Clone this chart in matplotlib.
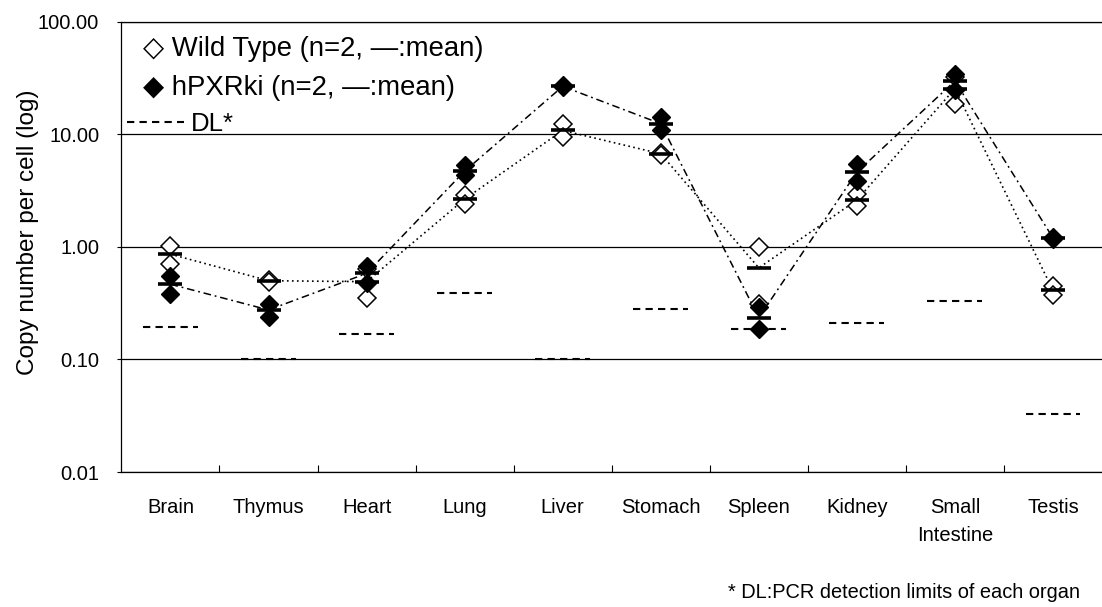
import matplotlib
matplotlib.use('Agg')
import matplotlib.pyplot as plt
from matplotlib.lines import Line2D
from matplotlib.ticker import FixedLocator, NullLocator, FormatStrFormatter
import numpy as np

plt.rcParams['font.family'] = ['Liberation Sans', 'DejaVu Sans']

organs = ['Brain', 'Thymus', 'Heart', 'Lung', 'Liver', 'Stomach', 'Spleen',
          'Kidney', 'Small\nIntestine', 'Testis']

# wild type: two animals + mean
wt_a = [1.02, 0.51, 0.63, 2.9, 12.4, 6.8, 1.00, 2.95, 32.0, 0.45]
wt_b = [0.70, 0.49, 0.35, 2.4, 9.4, 6.6, 0.31, 2.32, 18.7, 0.37]
wt_mean = [0.86, 0.50, 0.49, 2.65, 10.8, 6.7, 0.65, 2.6, 25.4, 0.41]

# hPXRki: two animals + mean
hp_a = [0.55, 0.31, 0.68, 5.3, 27.5, 14.2, 0.29, 5.45, 34.6, 1.22]
hp_b = [0.38, 0.24, 0.48, 4.3, 26.0, 10.8, 0.185, 3.87, 24.9, 1.18]
hp_mean = [0.465, 0.275, 0.58, 4.7, 26.6, 12.4, 0.235, 4.6, 29.7, 1.2]

# PCR detection limit per organ
dl = [0.195, 0.10, 0.167, 0.39, 0.10, 0.28, 0.185, 0.21, 0.33, 0.033]

x = np.arange(len(organs))

fig = plt.figure(figsize=(11.02, 6.07), dpi=100)
ax = fig.add_axes([0.1102, 0.2224, 0.8898, 0.742])

# detection limits (short dashed segments)
ax.hlines(dl, x - 0.28, x + 0.28, colors='black', linewidth=1.5,
          linestyles=(0, (3.5, 2.5)), zorder=2)

# lines through the means
ax.plot(x, wt_mean, color='black', linestyle=(0, (1, 2)), linewidth=1.2, zorder=3)
ax.plot(x, hp_mean, color='black', linestyle=(0, (5, 2.5, 1.2, 2.5)), linewidth=1.1, zorder=3)

# individual animals
for vals in (wt_a, wt_b):
    ax.plot(x, vals, linestyle='none', marker='D', markersize=9.5,
            markerfacecolor='white', markeredgecolor='black', markeredgewidth=1.1, zorder=4)
for vals in (hp_a, hp_b):
    ax.plot(x, vals, linestyle='none', marker='D', markersize=9.5,
            markerfacecolor='black', markeredgecolor='black', zorder=5)

# mean bars
ax.plot(x, wt_mean, linestyle='none', marker='_', markersize=17,
        markeredgewidth=2.6, color='black', zorder=6)
ax.plot(x, hp_mean, linestyle='none', marker='_', markersize=17,
        markeredgewidth=2.6, color='black', zorder=6)

ax.set_yscale('log')
ax.set_ylim(0.01, 100)
ax.set_xlim(-0.5, len(organs) - 0.5)
ax.yaxis.set_major_formatter(FormatStrFormatter('%.2f'))
ax.yaxis.set_minor_locator(NullLocator())
ax.yaxis.grid(True, which='major', color='black', linewidth=0.9)
ax.set_axisbelow(True)
ax.tick_params(axis='y', which='major', direction='out', length=3,
               width=0.8, pad=13, labelsize=14.5)

ax.set_xticks(x)
ax.set_xticklabels(organs)
ax.xaxis.set_minor_locator(FixedLocator(x[1:] - 0.5))
ax.tick_params(axis='x', which='major', length=0, pad=19, labelsize=14.5)
ax.tick_params(axis='x', which='minor', direction='in', length=5, width=0.8)
plt.setp(ax.get_xticklabels(), linespacing=1.6)

for side in ['left', 'bottom', 'top']:
    ax.spines[side].set_linewidth(0.9)
ax.spines['right'].set_visible(False)

ax.set_ylabel('Copy number per cell (log)', fontsize=17.5)
ax.yaxis.set_label_coords(-0.084, 0.533)

# legend
ax.text(0.022, 0.939, '\u25c7 Wild Type (n=2, \u2014:mean)', transform=ax.transAxes,
        fontsize=19.8, ha='left', va='center')
ax.text(0.022, 0.853, '\u25c6 hPXRki (n=2, \u2014:mean)', transform=ax.transAxes,
        fontsize=19.8, ha='left', va='center')
dl_handle = Line2D([], [], color='black', linewidth=1.5, linestyle=(0, (3.5, 2.5)))
ax.legend([dl_handle], ['DL*'], loc='center left', bbox_to_anchor=(0.0057, 0.772),
          frameon=False, fontsize=18.5, handlelength=2.2, handletextpad=0.3,
          borderpad=0, borderaxespad=0)

fig.text(0.6606, 1 - 592 / 607, '* DL:PCR detection limits of each organ',
         fontsize=14.4, ha='left', va='center')

fig.savefig('out.png', dpi=100)
